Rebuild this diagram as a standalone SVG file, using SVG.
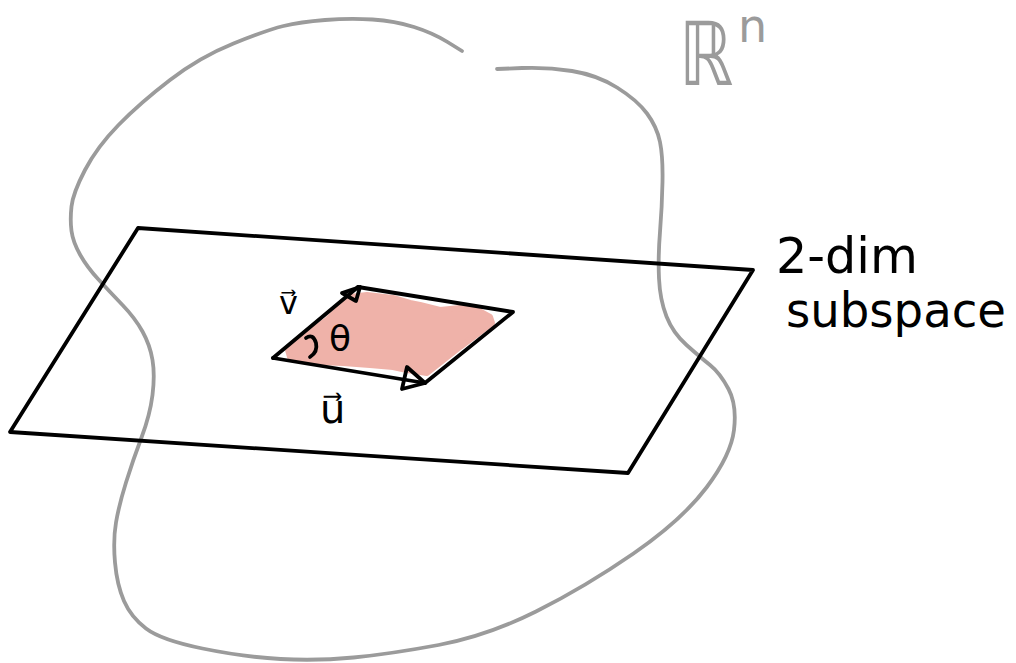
<svg xmlns="http://www.w3.org/2000/svg" width="1016" height="663" viewBox="0 0 1016 663">
<style>
.ink{fill:none;stroke:#000;stroke-width:3.8;stroke-linejoin:round;stroke-linecap:round}
.gray{fill:none;stroke:#9b9b9b;stroke-width:3.8;stroke-linecap:round;stroke-linejoin:round}
.lbl{font-family:"DejaVu Sans",sans-serif;fill:#000}
.glbl{font-family:"DejaVu Sans",sans-serif;fill:#9b9b9b}
</style>
<rect width="1016" height="663" fill="#fff"/>
<g id="space-Rn">
<path class="gray" d="M462,51 L447.5,42 Q433,33 414,27 Q395,21 372.5,19.5 Q350,18 325,20 Q300,22 283.5,26 Q267,30 233.5,43.5 Q200,57 170,80 Q140,103 118.5,125 Q97,147 85,170 Q73,193 71.5,206.5 Q70,220 71.5,231 Q73,242 80,254.5 Q87,267 98.5,279.5 Q110,292 122.5,305 Q135,318 142.5,331.5 Q150,345 152.5,360 Q155,375 152.5,395 Q150,415 141.5,437.5 Q133,460 126,482.5 Q119,505 116,522.5 Q113,540 115,562.5 Q117,585 124,601 Q131,617 146,628.5 Q161,640 202.5,648.5 Q244,657 280.5,659 Q317,661 353.5,657.5 Q390,654 438.5,645 Q487,636 536,611.5 Q585,587 633.5,553.5 Q682,520 706.5,487.5 Q731,455 734,430 Q737,405 728.5,389 Q720,373 710,365 Q700,357 686.5,345 Q673,333 666.5,316.5 Q660,300 659,278.5 Q658,257 660,232 Q662,207 662.5,182 Q663,157 660,142 Q657,127 647,113.5 Q637,100 617,87.5 Q597,75 572,71 Q547,67 522,68 L497,69"/>
<text class="glbl" transform="translate(679,85) scale(0.78,1)" font-size="88">ℝ</text>
<text class="glbl" x="738" y="42" font-size="46">n</text>
</g>
<g id="plane">
<polygon class="ink" points="138,228 753,270 628,473 10,432"/>
<text class="lbl" x="776" y="273" font-size="50" textLength="142" lengthAdjust="spacingAndGlyphs">2-dim</text>
<text class="lbl" x="786" y="327" font-size="48" textLength="220" lengthAdjust="spacingAndGlyphs">subspace</text>
</g>
<g id="parallelogram">
<path fill="#efb2a9" stroke="#efb2a9" stroke-width="6" stroke-linejoin="round" d="M350,297 L367,295 L393,298 L410,303 L420,305 L440,310 L460,308 L477,310 L490,317 L492,323 L460,347 L427,373 L407,370 L393,367 L370,365 L343,363 L320,362 L300,360 L290,357 L288,350 L303,337 L327,320 Z"/>
<polyline class="ink" points="358,287 513,312 425,383"/>
<path class="ink" d="M306,338 Q313,333 316,343 Q318,352 310,357"/>
<text class="lbl" x="329" y="351" font-size="36">θ</text>
</g>
<g id="vectors">
<line class="ink" x1="273" y1="358" x2="358" y2="287"/>
<path class="ink" d="M342,293 L360,287 L356,301 Z"/>
<line class="ink" x1="273" y1="358" x2="425" y2="383"/>
<path class="ink" d="M407,367 L425,383 L402,389 Z"/>
<text class="lbl" x="279" y="314" font-size="32">v⃗</text>
<text class="lbl" x="320" y="423" font-size="40">u⃗</text>
</g>
</svg>
